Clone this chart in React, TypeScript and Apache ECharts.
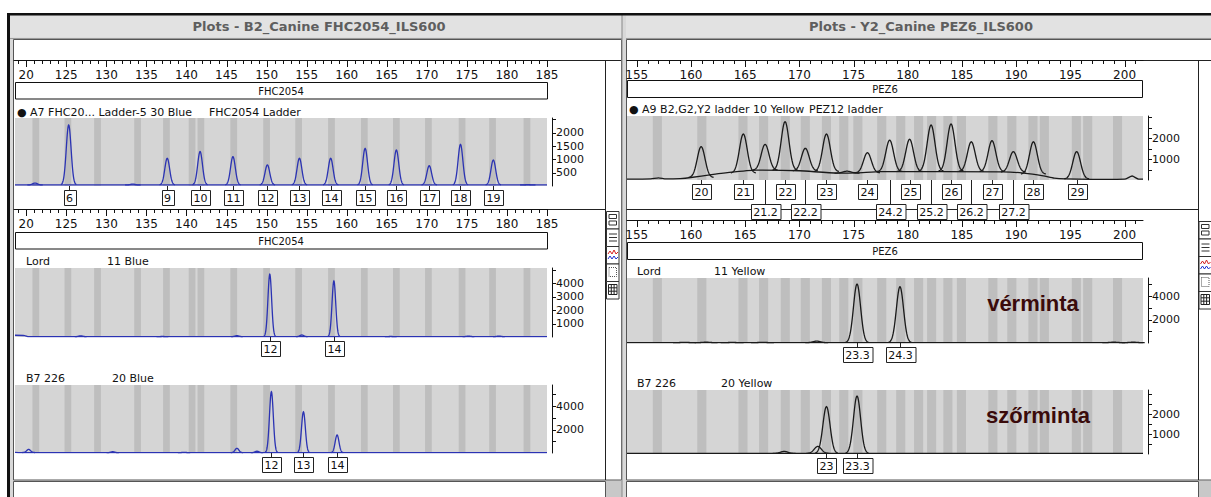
import React, { useEffect, useRef } from "react";
import * as echarts from "echarts";

const FONT = "DejaVu Sans";
const BLUE = "#2b33b3";
const BLACK = "#1a1a1a";

// ---------- ruler (size in bp) ----------
const leftRange = [118.6, 185];
const rightRange = [154.1, 201.7];
const leftRulerTicks = [120, 125, 130, 135, 140, 145, 150, 155, 160, 165, 170, 175, 180, 185];
const leftRulerLabels = ["20", "125", "130", "135", "140", "145", "150", "155", "160", "165", "170", "175", "180", "185"];
const rightRulerTicks = [155, 160, 165, 170, 175, 180, 185, 190, 195, 200];
const rightRulerLabels = ["155", "160", "165", "170", "175", "180", "185", "190", "195", "200"];

// ---------- RFU axes ----------
const ladderBlueMax = 2550;
const ladderBlueTicks = [500, 1000, 1500, 2000, 2500];
const ladderBlueLabels = [500, 1000, 1500, 2000];
const lordBlueMax = 5150;
const lordBlueTicks = [1000, 2000, 3000, 4000, 5000];
const lordBlueLabels = [1000, 2000, 3000, 4000];
const b7BlueMax = 5790;
const b7BlueTicks = [1000, 2000, 3000, 4000, 5000];
const b7BlueLabels = [2000, 4000];
const ladderYellowMax = 3050;
const ladderYellowTicks = [500, 1000, 1500, 2000, 2500, 3000];
const ladderYellowLabels = [1000, 2000];
const lordYellowMax = 5545;
const lordYellowTicks = [1000, 2000, 3000, 4000, 5000];
const lordYellowLabels = [2000, 4000];
const b7YellowMax = 3200;
const b7YellowTicks = [500, 1000, 1500, 2000, 2500, 3000];
const b7YellowLabels = [1000, 2000];

// ---------- allele bins (bp) ----------
const leftBins = [121.2, 125.2, 128.9, 133.9, 137.5, 140.7, 141.8, 145.9, 150.0, 154.0, 158.1, 162.2, 166.2, 170.2, 174.4, 178.2, 182.5];
const rightBins = [156.9, 161.0, 164.8, 166.7, 168.7, 170.55, 172.5, 174.1, 175.4, 177.6, 179.35, 181.0, 182.2, 183.7, 184.95, 187.85, 189.6, 191.55, 192.6, 195.55, 196.6, 199.35];

// ---------- traces: peaks [bp, height RFU, foot RFU], baselines [bp, RFU] ----------
const ladderBluePeaks = [[121.1, 110, 40], [125.3, 2290, 40], [133.3, 70, 40], [137.6, 1040, 40], [141.7, 1290, 40], [145.8, 1100, 40], [150.1, 790, 40], [154.1, 1040, 40], [158.0, 1040, 40], [162.3, 1410, 40], [166.2, 1350, 40], [170.3, 760, 40], [174.2, 1560, 40], [178.3, 975, 40], [182.6, 50, 40]];
const ladderBlueBase = [[118.6, 40], [185, 40]];
const ladderBlueAlleles: [number, string, number][] = [[125.3, "6", 0], [137.6, "9", 0], [141.7, "10", 0], [145.8, "11", 0], [150.1, "12", 0], [154.1, "13", 0], [158.0, "14", 0], [162.3, "15", 0], [166.2, "16", 0], [170.3, "17", 0], [174.2, "18", 0], [178.3, "19", 0]];

const lordBluePeaks = [[126.8, 90, 30], [137.0, 40, 30], [146.3, 100, 30], [150.4, 4680, 30], [154.4, 150, 30], [158.4, 4180, 30], [165.5, 40, 30], [175.2, 70, 30], [179.0, 70, 30]];
const lordBlueBase = [[118.6, 130], [119.8, 110], [120.3, 30], [185, 30]];
const lordBlueAlleles: [number, string, number][] = [[150.4, "12", 0], [158.4, "14", 0]];

const b7BluePeaks = [[120.3, 310, 40], [130.8, 110, 30], [139.7, 60, 30], [146.3, 400, 30], [148.8, 150, 30], [150.6, 5220, 30], [154.6, 3510, 30], [158.8, 1530, 30]];
const b7BlueBase = [[118.6, 60], [119.3, 40], [185, 30]];
const b7BlueAlleles: [number, string, number][] = [[150.6, "12", 0], [154.6, "13", 0], [158.8, "14", 0]];

const ladderYellowPeaks = [[160.94, 1590, 120], [164.83, 2190, 330], [166.84, 1700, 470], [168.68, 2780, 460], [170.55, 1510, 440], [172.5, 2190, 400], [174.4, 420, 330], [176.28, 1300, 340], [178.33, 1900, 400], [180.17, 1940, 400], [182.15, 2620, 420], [183.99, 2670, 420], [185.86, 1820, 410], [187.77, 1870, 400], [189.74, 1350, 380], [191.59, 1820, 280], [195.58, 1350, 50]];
const ladderYellowBase = [[154.1, 40], [156.3, 50], [157.0, 100], [157.7, 50], [159.0, 70], [160.0, 120], [161.9, 260], [163.0, 330], [166.0, 470], [170.0, 440], [173.5, 330], [175.3, 340], [177.5, 400], [188.8, 390], [190.7, 330], [192.5, 200], [193.5, 90], [194.6, 50], [197.0, 30], [200.0, 40], [200.7, 190], [201.3, 40], [201.7, 40]];
const ladderYellowAlleles: [number, string, number][] = [[160.94, "20", 0], [164.83, "21", 0], [166.84, "21.2", 1], [168.68, "22", 0], [170.55, "22.2", 1], [172.5, "23", 0], [176.28, "24", 0], [178.33, "24.2", 1], [180.17, "25", 0], [182.15, "25.2", 1], [183.99, "26", 0], [185.86, "26.2", 1], [187.77, "27", 0], [189.74, "27.2", 1], [191.59, "28", 0], [195.58, "29", 0]];

const lordYellowPeaks = [[159.4, 60, 30], [161.4, 70, 30], [163.8, 50, 30], [166.6, 60, 30], [171.6, 160, 30], [175.32, 5030, 30], [179.28, 4800, 30], [199.0, 70, 30], [200.8, 70, 30]];
const lordYellowBase = [[154.1, 30], [201.7, 30]];
const lordYellowAlleles: [number, string, number][] = [[175.32, "23.3", 0], [179.28, "24.3", 0]];

const b7YellowPeaks = [[168.6, 130, 30], [171.7, 380, 30], [172.5, 2370, 30], [175.32, 2900, 30]];
const b7YellowBase = [[154.1, 30], [201.7, 30]];
const b7YellowAlleles: [number, string, number][] = [[172.5, "23", 0], [175.32, "23.3", 0]];

// ---------- helpers for static graphics ----------
function R(x: number, y: number, w: number, h: number, fill: string, stroke?: string, lw = 1, z = -10): any {
  return { type: "rect", z, silent: true, shape: { x, y, width: w, height: h }, style: { fill, stroke: stroke || null, lineWidth: lw } };
}
function L(x1: number, y1: number, x2: number, y2: number, stroke = "#222", lw = 1, z = -9): any {
  return { type: "line", z, silent: true, shape: { x1, y1, x2, y2 }, style: { stroke, lineWidth: lw } };
}
function T(x: number, y: number, text: string, size = 10, opts: any = {}, z = 20): any {
  return { type: "text", z, silent: true, x, y, style: { text, fontSize: size, fontFamily: FONT, fill: "#111", verticalAlign: "middle", align: "left", ...opts } };
}
function P(pts: number[][], stroke: string, z = -8): any {
  return { type: "polyline", z, silent: true, shape: { points: pts }, style: { stroke, fill: null, lineWidth: 1 } };
}

function toolbar(x: number, y: number): any[] {
  const h = 17.5;
  const els: any[] = [];
  for (let i = 0; i < 5; i++) els.push(R(x + 0.5, y + i * h + 0.5, 12.5, h, "#fff", "#333", 1, -8));
  els.push(R(x + 3, y + 3.5, 7.5, 4, "#fff", "#333", 1, -7), R(x + 3, y + 10, 7.5, 4, "#fff", "#333", 1, -7));
  const y2 = y + h;
  els.push(L(x + 3, y2 + 5.5, x + 11, y2 + 5.5, "#333", 1, -7), L(x + 3, y2 + 9, x + 11, y2 + 9, "#333", 1, -7), L(x + 3, y2 + 12.5, x + 11, y2 + 12.5, "#333", 1, -7));
  const y3 = y + 2 * h;
  els.push(P([[x + 2, y3 + 8], [x + 4, y3 + 5], [x + 6, y3 + 8], [x + 8, y3 + 4], [x + 10, y3 + 8], [x + 12, y3 + 6]], "#d42020", -7));
  els.push(P([[x + 2, y3 + 13], [x + 4, y3 + 10], [x + 6, y3 + 13], [x + 8, y3 + 10], [x + 10, y3 + 13], [x + 12, y3 + 11]], "#2030d0", -7));
  const y4 = y + 3 * h;
  els.push({ type: "rect", z: -7, silent: true, shape: { x: x + 3, y: y4 + 4, width: 7.5, height: 9 }, style: { fill: "#fff", stroke: "#555", lineDash: [1, 1], lineWidth: 1 } });
  const y5 = y + 4 * h;
  els.push(R(x + 2.5, y5 + 3.5, 8.5, 10, "#fff", "#222", 1, -7));
  els.push(L(x + 2.5, y5 + 6.8, x + 11, y5 + 6.8, "#222", 1, -6), L(x + 2.5, y5 + 10.2, x + 11, y5 + 10.2, "#222", 1, -6));
  els.push(L(x + 5.3, y5 + 3.5, x + 5.3, y5 + 13.5, "#222", 1, -6), L(x + 8.1, y5 + 3.5, x + 8.1, y5 + 13.5, "#222", 1, -6));
  return els;
}

function chromeElements(): any[] {
  const title = { align: "center", fill: "#5e5e5e", fontWeight: "bold", fontFamily: FONT };
  return [
    // left window
    R(8, 14, 614, 483, "#d8d8d8"),
    R(10, 15.5, 612, 22, "#e2e2e2"),
    L(10, 38.5, 622, 38.5, "#9a9a9a"),
    R(13.5, 39.5, 608, 440.5, "#ffffff", "#555"),
    L(13.5, 60.5, 621, 60.5, "#222"),
    L(605.5, 60.5, 605.5, 480, "#222"),
    L(13.5, 209.5, 605.5, 209.5, "#222"),
    R(13.5, 481.5, 592, 16, "#ffffff", "#555"),
    R(606, 481, 16, 16, "#c8c8c8"),
    // right window
    R(622, 14, 589, 483, "#d8d8d8"),
    L(622, 14, 622, 497, "#888", 1),
    R(626, 15.5, 585, 22, "#e2e2e2"),
    L(626, 38.5, 1211, 38.5, "#9a9a9a"),
    R(626.5, 39.5, 590, 440.5, "#ffffff", "#555"),
    L(626.5, 60.5, 1211, 60.5, "#222"),
    L(1198.5, 60.5, 1198.5, 480, "#222"),
    L(626.5, 209.5, 1198.5, 209.5, "#222"),
    R(626.5, 481.5, 572, 16, "#ffffff", "#555"),
    R(1199, 481, 12, 16, "#c8c8c8"),
    // black frame
    R(7, 13, 1204, 2.5, "#111", undefined, 1, -5),
    R(7, 13, 3, 484, "#111", undefined, 1, -5),
    // titles
    T(319, 26, "Plots - B2_Canine FHC2054_ILS600", 13, title),
    T(921, 26, "Plots - Y2_Canine PEZ6_ILS600", 13, title),
    // locus boxes
    R(15.5, 82.5, 532, 16.5, "#fff", "#111", 1, 5), T(281, 91, "FHC2054", 10, { align: "center" }),
    R(15.5, 232.5, 532, 16.5, "#fff", "#111", 1, 5), T(281, 241, "FHC2054", 10, { align: "center" }),
    R(627.5, 80.5, 515, 17, "#fff", "#111", 1, 5), T(885, 89, "PEZ6", 10, { align: "center" }),
    R(627.5, 242.5, 515, 17, "#fff", "#111", 1, 5), T(885, 251, "PEZ6", 10, { align: "center" }),
    // sample labels
    T(17, 112, "● A7 FHC20... Ladder-5 30 Blue", 11), T(209, 112, "FHC2054 Ladder", 11),
    T(26, 261, "Lord", 11), T(107, 261, "11 Blue", 11),
    T(26, 378, "B7 226", 11), T(112, 378, "20 Blue", 11),
    T(629, 109, "● A9 B2,G2,Y2 ladder 10 Yellow", 11), T(809, 109, "PEZ12 ladder", 11),
    T(637, 271, "Lord", 11), T(714, 271, "11 Yellow", 11),
    T(637, 383, "B7 226", 11), T(721, 383, "20 Yellow", 11),
    // annotations
    T(1033, 303, "vérminta", 22, { align: "center", fontFamily: "Liberation Sans", fontWeight: "bold", fill: "#3a0b0b" }, 30),
    T(1038, 415, "szőrminta", 22, { align: "center", fontFamily: "Liberation Sans", fontWeight: "bold", fill: "#3a0b0b" }, 30),
    ...toolbar(606, 211),
    ...toolbar(1198.5, 221),
  ];
}

// ---------- axes ----------
function rulerAxis(gridIndex: number, range: number[], ticks: number[], labels: string[], offset: number) {
  return {
    type: "value", gridIndex, min: range[0], max: range[1], position: "top", offset, z: 8,
    axisLine: { show: true, onZero: false, lineStyle: { color: "#111", width: 1 } },
    axisTick: { show: false },
    axisLabel: {
      show: true, inside: true, customValues: ticks, margin: 9, fontSize: 12, color: "#111", fontFamily: FONT,
      formatter: (v: number) => { const i = ticks.findIndex((t) => Math.abs(t - v) < 1e-6); return i >= 0 ? labels[i] : ""; },
    },
    splitLine: { show: false },
  };
}
function hiddenX(gridIndex: number, range: number[]) {
  return { type: "value", gridIndex, min: range[0], max: range[1], show: false, axisLine: { onZero: false }, splitLine: { show: false } };
}
function yAxisCfg(gridIndex: number, max: number, labels: number[]) {
  return {
    type: "value", gridIndex, min: 0, max, position: "right", offset: 5, z: 8,
    axisLine: { show: true, onZero: false, lineStyle: { color: "#111", width: 1 } },
    axisTick: { show: false },
    axisLabel: { show: true, customValues: labels, margin: 4, fontSize: 11, color: "#111", fontFamily: FONT, formatter: (v: number) => String(v) },
    splitLine: { show: false },
  };
}

// ---------- series renderers ----------
function binRenderer(half: number, color: string) {
  return (params: any, api: any) => {
    const cs = params.coordSys;
    const x0 = api.coord([api.value(0) - half, 0])[0];
    const x1 = api.coord([api.value(0) + half, 0])[0];
    return { type: "rect", shape: { x: x0, y: cs.y, width: x1 - x0, height: cs.height }, style: { fill: color } };
  };
}
// ruler ticks drawn as thin rects hanging from the ruler line
function rulerTickRenderer(offset: number, majors: number[]) {
  return (params: any, api: any) => {
    const cs = params.coordSys;
    const v = api.value(0);
    const x = Math.round(api.coord([v, 0])[0]);
    const y0 = cs.y - offset;
    const len = majors.some((m) => Math.abs(m - v) < 1e-6) ? 7 : 4;
    return { type: "rect", shape: { x: x, y: y0, width: 1, height: len }, style: { fill: "#111" } };
  };
}
// RFU ticks drawn as thin rects to the right of the y axis line
function yTickRenderer() {
  return (params: any, api: any) => {
    const cs = params.coordSys;
    const y = Math.round(api.coord([0, api.value(1)])[1]);
    return { type: "rect", shape: { x: cs.x + cs.width + 5, y: y, width: 4, height: 1 }, style: { fill: "#111" } };
  };
}
function peakRenderer(sigma: number, color: string) {
  return (params: any, api: any) => {
    const c = api.value(0), h = api.value(1), f = api.value(2);
    const pts: number[][] = [];
    for (let i = -32; i <= 32; i++) {
      const t = i / 10;
      pts.push(api.coord([c + t * sigma, f + (h - f) * Math.exp(-t * t / 2)]));
    }
    return { type: "polyline", shape: { points: pts }, style: { stroke: color, fill: null, lineWidth: 1.3 } };
  };
}
function textWidth(s: string) {
  let w = 0;
  for (const ch of s) w += ch === "." ? 3.5 : 7;
  return w;
}
function alleleRenderer(alleles: [number, string, number][]) {
  return (params: any, api: any) => {
    const cs = params.coordSys;
    const [, txt, row] = alleles[params.dataIndex];
    const x = Math.round(api.coord([api.value(0), 0])[0]) + 0.5;
    const base = cs.y + cs.height;
    const top = Math.round(base + 4 + row * 20) + 0.5;
    const bw = textWidth(txt) + 5;
    return {
      type: "group",
      children: [
        { type: "line", shape: { x1: x, y1: base, x2: x, y2: top }, style: { stroke: "#222", lineWidth: 1 } },
        { type: "rect", shape: { x: Math.round(x - bw / 2) + 0.5, y: top, width: bw, height: 15 }, style: { fill: "#fff", stroke: "#222", lineWidth: 1 } },
        { type: "text", x: x, y: top + 8, style: { text: txt, fontSize: 11, fontFamily: FONT, fill: "#111", align: "center", verticalAlign: "middle" } },
      ],
    };
  };
}

function buildOption() {
  const gridBoxes = [
    { left: 15, top: 118, width: 532, height: 68 },
    { left: 15, top: 268, width: 532, height: 69 },
    { left: 15, top: 385, width: 532, height: 68 },
    { left: 627, top: 116, width: 516, height: 64 },
    { left: 627, top: 278, width: 516, height: 65 },
    { left: 627, top: 390, width: 516, height: 64 },
  ];
  const grid = gridBoxes.map((g) => ({ ...g, show: true, backgroundColor: "#d5d5d5", borderWidth: 0, containLabel: false }));

  const xAxis = [
    rulerAxis(0, leftRange, leftRulerTicks, leftRulerLabels, 58),
    rulerAxis(1, leftRange, leftRulerTicks, leftRulerLabels, 59),
    hiddenX(2, leftRange),
    rulerAxis(3, rightRange, rightRulerTicks, rightRulerLabels, 56),
    rulerAxis(4, rightRange, rightRulerTicks, rightRulerLabels, 58),
    hiddenX(5, rightRange),
  ];
  const yAxis = [
    yAxisCfg(0, ladderBlueMax, ladderBlueLabels),
    yAxisCfg(1, lordBlueMax, lordBlueLabels),
    yAxisCfg(2, b7BlueMax, b7BlueLabels),
    yAxisCfg(3, ladderYellowMax, ladderYellowLabels),
    yAxisCfg(4, lordYellowMax, lordYellowLabels),
    yAxisCfg(5, b7YellowMax, b7YellowLabels),
  ];

  const panels = [
    { ax: 0, bins: leftBins, peaks: ladderBluePeaks, base: ladderBlueBase, alleles: ladderBlueAlleles, yTicks: ladderBlueTicks, color: BLUE, sigma: 0.3, ruler: 58, range: leftRange, majors: leftRulerTicks },
    { ax: 1, bins: leftBins, peaks: lordBluePeaks, base: lordBlueBase, alleles: lordBlueAlleles, yTicks: lordBlueTicks, color: BLUE, sigma: 0.23, ruler: 59, range: leftRange, majors: leftRulerTicks },
    { ax: 2, bins: leftBins, peaks: b7BluePeaks, base: b7BlueBase, alleles: b7BlueAlleles, yTicks: b7BlueTicks, color: BLUE, sigma: 0.24, ruler: 0, range: leftRange, majors: leftRulerTicks },
    { ax: 3, bins: rightBins, peaks: ladderYellowPeaks, base: ladderYellowBase, alleles: ladderYellowAlleles, yTicks: ladderYellowTicks, color: BLACK, sigma: 0.36, ruler: 56, range: rightRange, majors: rightRulerTicks },
    { ax: 4, bins: rightBins, peaks: lordYellowPeaks, base: lordYellowBase, alleles: lordYellowAlleles, yTicks: lordYellowTicks, color: BLACK, sigma: 0.33, ruler: 58, range: rightRange, majors: rightRulerTicks },
    { ax: 5, bins: rightBins, peaks: b7YellowPeaks, base: b7YellowBase, alleles: b7YellowAlleles, yTicks: b7YellowTicks, color: BLACK, sigma: 0.33, ruler: 0, range: rightRange, majors: rightRulerTicks },
  ];

  const series: any[] = [];
  panels.forEach((p) => {
    const common = { coordinateSystem: "cartesian2d", xAxisIndex: p.ax, yAxisIndex: p.ax, silent: true, clip: false, encode: { x: 0, y: 1 } };
    series.push({ type: "custom", ...common, z: 1, data: p.bins.map((b) => [b, 0]), renderItem: binRenderer(0.42, "#bebebe") });
    series.push({
      type: "line", xAxisIndex: p.ax, yAxisIndex: p.ax, z: 3, silent: true, showSymbol: false, symbol: "none",
      data: p.base, lineStyle: { color: p.color, width: 1.3 }, smooth: 0.2,
    });
    series.push({ type: "custom", ...common, z: 4, data: p.peaks, renderItem: peakRenderer(p.sigma, p.color) });
    series.push({ type: "custom", ...common, z: 5, data: p.alleles.map((a) => [a[0], 0]), renderItem: alleleRenderer(p.alleles) });
    series.push({ type: "custom", ...common, z: 9, data: p.yTicks.map((t) => [p.range[1], t]), renderItem: yTickRenderer() });
    if (p.ruler > 0) {
      const ticks: number[][] = [];
      for (let v = Math.ceil(p.range[0]); v <= p.range[1]; v++) ticks.push([v, 0]);
      series.push({ type: "custom", ...common, z: 9, data: ticks, renderItem: rulerTickRenderer(p.ruler, p.majors) });
    }
  });

  return {
    animation: false,
    backgroundColor: "#ffffff",
    textStyle: { fontFamily: FONT },
    grid,
    xAxis,
    yAxis,
    series,
    graphic: { elements: chromeElements() },
  };
}

export default function App() {
  const ref = useRef<HTMLDivElement>(null);
  useEffect(() => {
    if (!ref.current) return;
    const chart = echarts.init(ref.current, null, { renderer: "svg", width: 1211, height: 497 });
    chart.setOption(buildOption() as any);
    return () => chart.dispose();
  }, []);
  return <div ref={ref} style={{ position: "absolute", left: 0, top: 0, width: 1211, height: 497, background: "#fff" }} />;
}
